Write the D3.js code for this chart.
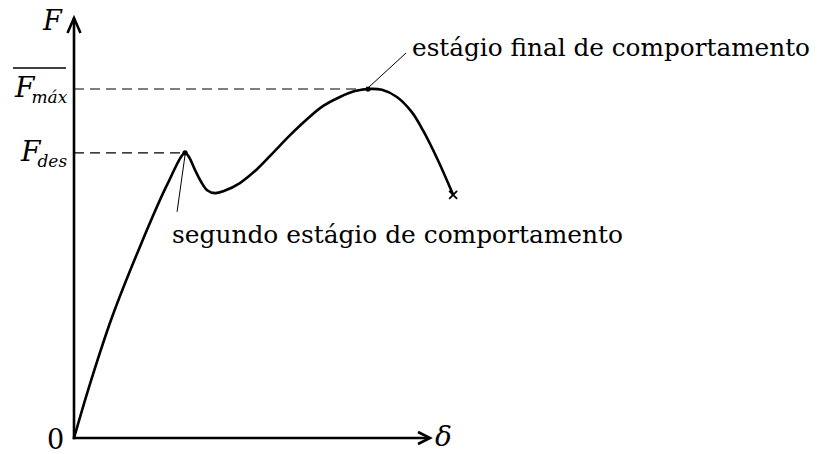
<!DOCTYPE html>
<html>
<head>
<meta charset="utf-8">
<script src="https://cdn.jsdelivr.net/npm/d3@7"></script>
<style>
  html, body { margin: 0; padding: 0; background: #fff; }
  svg { display: block; }
</style>
</head>
<body>
<svg id="chart" width="825" height="454"></svg>
<script>
// Force–displacement curve (arbitrary units, 0–100 on each axis)
const delta = [0, 4.5, 10.7, 18.5, 26.1, 31.2,
  32.3, 34.0, 35.7, 37.4, 39.6, 42.1, 46.6, 51.4, 55.9, 60.7, 65.2, 69.9,
  74.7, 78.9, 82.6, 86.5, 90.7, 94.9, 98.0, 102.2, 106.5];
const force = [0, 12.9, 28.8, 45.5, 60.2, 67.9,
  66.9, 63.8, 61.0, 59.0, 58.3, 58.8, 60.7, 64.0, 67.9, 72.1, 75.7, 79.0,
  81.2, 82.6, 83.1, 82.9, 81.2, 77.6, 73.3, 66.2, 57.9];

const desIndex = 5;    // first peak (F_des)
const maxIndex = 20;   // maximum load (F_máx)
const endIndex = delta.length - 1;  // rupture

const axisLabels = { force: "F", disp: "δ", origin: "0" };
const levelLabels = [
  { main: "F", sub: "máx", idx: maxIndex, bar: true },
  { main: "F", sub: "des", idx: desIndex, bar: false }
];
const notes = [
  { text: "estágio final de comportamento", idx: maxIndex },
  { text: "segundo estágio de comportamento", idx: desIndex }
];

const serif = "DejaVu Serif";
const svg = d3.select("#chart");
const x = d3.scaleLinear().domain([0, 100]).range([74, 430]);
const y = d3.scaleLinear().domain([0, 100]).range([438, 18]);

const ink = "#000";

function label(px, py, size, txt, italic) {
  return svg.append("text")
    .attr("x", px).attr("y", py)
    .style("font-family", serif)
    .attr("font-size", size)
    .attr("font-style", italic ? "italic" : "normal")
    .attr("fill", ink)
    .text(txt);
}

// reference dashed lines to the peaks
levelLabels.forEach(l => {
  svg.append("line")
    .attr("x1", x(0)).attr("x2", x(delta[l.idx]))
    .attr("y1", y(force[l.idx])).attr("y2", y(force[l.idx]))
    .attr("stroke", ink).attr("stroke-width", 1.2)
    .attr("stroke-dasharray", "10,6");
});

// axes with open arrowheads
svg.append("line").attr("x1", x(0)).attr("y1", y(0) + 1.3).attr("x2", x(0)).attr("y2", y(100))
  .attr("stroke", ink).attr("stroke-width", 2.6);
svg.append("line").attr("x1", x(0) - 1.3).attr("y1", y(0)).attr("x2", x(100)).attr("y2", y(0))
  .attr("stroke", ink).attr("stroke-width", 2.6);
svg.append("path")
  .attr("d", `M${x(0) - 6.5},${y(100) + 15} L${x(0)},${y(100)} L${x(0) + 6.5},${y(100) + 15}`)
  .attr("fill", "none").attr("stroke", ink).attr("stroke-width", 2.6)
  .attr("stroke-linejoin", "miter");
svg.append("path")
  .attr("d", `M${x(100) - 12},${y(0) - 6} L${x(100)},${y(0)} L${x(100) - 12},${y(0) + 6}`)
  .attr("fill", "none").attr("stroke", ink).attr("stroke-width", 2.6)
  .attr("stroke-linejoin", "miter");

// load–displacement curve
const pts = delta.map((d, i) => [d, force[i]]);
const line = d3.line().x(d => x(d[0])).y(d => y(d[1])).curve(d3.curveCatmullRom.alpha(0.5));
svg.append("path").attr("d", line(pts))
  .attr("fill", "none").attr("stroke", ink).attr("stroke-width", 2.6)
  .attr("stroke-linejoin", "round");

// peak markers
[desIndex, maxIndex].forEach(i => {
  svg.append("circle").attr("cx", x(delta[i])).attr("cy", y(force[i])).attr("r", 2.6).attr("fill", ink);
});

// rupture cross
const ex = x(delta[endIndex]), ey = y(force[endIndex]);
svg.append("path")
  .attr("d", `M${ex - 4},${ey - 4} L${ex + 4},${ey + 4} M${ex - 4},${ey + 4} L${ex + 4},${ey - 4}`)
  .attr("stroke", ink).attr("stroke-width", 1.8);

// leader lines and annotations
const mx = x(delta[maxIndex]), my = y(force[maxIndex]);
svg.append("line").attr("x1", mx + 1).attr("y1", my - 2).attr("x2", mx + 38).attr("y2", my - 36)
  .attr("stroke", ink).attr("stroke-width", 1);
label(412, 56, 25, notes[0].text, false)
  .attr("textLength", 398).attr("lengthAdjust", "spacingAndGlyphs");

const dx = x(delta[desIndex]), dy = y(force[desIndex]);
svg.append("line").attr("x1", dx).attr("y1", dy + 2).attr("x2", dx - 8).attr("y2", dy + 59)
  .attr("stroke", ink).attr("stroke-width", 1);
label(172, 243, 25, notes[1].text, false)
  .attr("textLength", 451).attr("lengthAdjust", "spacingAndGlyphs");

// axis labels
label(43, 30, 27, axisLabels.force, true);
label(435, 446, 28, axisLabels.disp, true);
label(47, 449, 27, axisLabels.origin, false);

// level labels on the force axis: F with an italic subscript
levelLabels.forEach(l => {
  const base = y(force[l.idx]);
  const fx = l.bar ? 15 : 21;
  const t = label(fx, base + 8, 28, "", true);
  t.append("tspan").text(l.main);
  t.append("tspan").attr("dx", -3).attr("dy", 6).attr("font-size", 17).text(l.sub);
  if (l.bar) {
    svg.append("line").attr("x1", 13).attr("x2", 66).attr("y1", base - 21).attr("y2", base - 21)
      .attr("stroke", ink).attr("stroke-width", 1.6);
  }
});
</script>
</body>
</html>
